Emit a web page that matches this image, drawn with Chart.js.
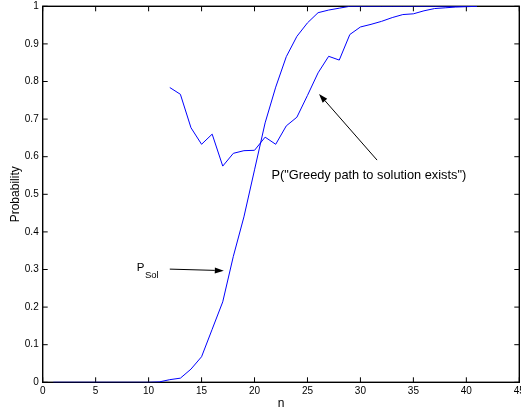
<!DOCTYPE html>
<html lang="en">
  <head>
    <meta charset="UTF-8" />
    <title>Probability vs n</title>
    <script src="https://cdn.jsdelivr.net/npm/chart.js"></script>
    <style>
      body { margin: 0; background: #fff; }
    </style>
  </head>
  <body>
    <canvas id="chart" width="521" height="411"></canvas>
    <script>
      // values
      const nSol = [1, 2, 3, 4, 5, 6, 7, 8, 9, 10, 11, 12, 13, 14, 15, 16, 17, 18, 19, 20, 21,
        22, 23, 24, 25, 26, 27, 28, 29, 30, 31, 32, 33, 34, 35, 36, 37, 38, 39, 40, 41];
      const pSol = [0, 0, 0, 0, 0, 0, 0, 0, 0, 0, 0.001, 0.007, 0.011, 0.035, 0.068, 0.141, 0.214,
        0.335, 0.44, 0.565, 0.69, 0.785, 0.866, 0.92, 0.956, 0.983, 0.99, 0.995, 1, 1, 1, 1, 1,
        1, 1, 1, 1, 1, 1, 1, 1];
      const nGreedy = [12, 13, 14, 15, 16, 17, 18, 19, 20, 21, 22, 23, 24, 25, 26, 27, 28, 29,
        30, 31, 32, 33, 34, 35, 36, 37, 38, 39, 40, 41];
      const pGreedy = [0.784, 0.766, 0.677, 0.633, 0.66, 0.575, 0.609, 0.616, 0.617, 0.652,
        0.633, 0.682, 0.705, 0.763, 0.823, 0.867, 0.857, 0.925, 0.945, 0.952, 0.96, 0.97,
        0.978, 0.98, 0.988, 0.994, 0.996, 0.998, 0.999, 1];
      const xTicks = [0, 5, 10, 15, 20, 25, 30, 35, 40, 45];
      const yTicks = [0, 0.1, 0.2, 0.3, 0.4, 0.5, 0.6, 0.7, 0.8, 0.9, 1];

      const FONT = "'Liberation Sans', Arial, Helvetica, sans-serif";
      const BLUE = "#0000ff";

      const toPoints = (xs, ys) => xs.map((x, i) => ({ x: x, y: ys[i] }));

      // frame with inward ticks on all four sides, like the original plot
      const framePlugin = {
        id: "frame",
        beforeDatasetsDraw(chart) {
          const { ctx, chartArea: a, scales } = chart;
          const len = 5;
          ctx.save();
          ctx.strokeStyle = "#000";
          ctx.lineWidth = 1.4;
          ctx.strokeRect(a.left, a.top, a.right - a.left, a.bottom - a.top);
          ctx.lineWidth = 1;
          ctx.beginPath();
          xTicks.forEach((v) => {
            const px = scales.x.getPixelForValue(v);
            ctx.moveTo(px, a.bottom); ctx.lineTo(px, a.bottom - len);
            ctx.moveTo(px, a.top); ctx.lineTo(px, a.top + len);
          });
          yTicks.forEach((v) => {
            const py = scales.y.getPixelForValue(v);
            ctx.moveTo(a.left, py); ctx.lineTo(a.left + len, py);
            ctx.moveTo(a.right, py); ctx.lineTo(a.right - len, py);
          });
          ctx.stroke();
          ctx.restore();
        },
      };

      function arrow(ctx, x1, y1, x2, y2) {
        const ang = Math.atan2(y2 - y1, x2 - x1);
        const hl = 9, hw = 3;
        ctx.beginPath();
        ctx.moveTo(x1, y1);
        ctx.lineTo(x2 - hl * Math.cos(ang), y2 - hl * Math.sin(ang));
        ctx.stroke();
        ctx.beginPath();
        ctx.moveTo(x2, y2);
        ctx.lineTo(x2 - hl * Math.cos(ang) + hw * Math.sin(ang), y2 - hl * Math.sin(ang) - hw * Math.cos(ang));
        ctx.lineTo(x2 - hl * Math.cos(ang) - hw * Math.sin(ang), y2 - hl * Math.sin(ang) + hw * Math.cos(ang));
        ctx.closePath();
        ctx.fill();
      }

      const notesPlugin = {
        id: "notes",
        afterDraw(chart) {
          const { ctx, scales } = chart;
          const X = (v) => scales.x.getPixelForValue(v);
          const Y = (v) => scales.y.getPixelForValue(v);
          ctx.save();
          ctx.fillStyle = "#000";
          ctx.strokeStyle = "#000";
          ctx.lineWidth = 1;
          ctx.textBaseline = "alphabetic";
          ctx.textAlign = "left";

          ctx.font = "12.8px " + FONT;
          ctx.fillText('P("Greedy path to solution exists")', X(21.6), Y(0.54));
          arrow(ctx, X(31.57), Y(0.591), X(26.09), Y(0.767));

          ctx.font = "11.5px " + FONT;
          ctx.fillText("P", X(8.87), Y(0.295));
          ctx.font = "9.5px " + FONT;
          ctx.fillText("Sol", X(9.65), Y(0.277));
          arrow(ctx, X(12.0), Y(0.301), X(17.1), Y(0.297));
          ctx.restore();
        },
      };

      new Chart(document.getElementById("chart"), {
        type: "line",
        data: {
          datasets: [
            {
              label: "P Sol",
              data: toPoints(nSol, pSol),
              borderColor: BLUE,
              backgroundColor: BLUE,
              borderWidth: 1,
              pointRadius: 0,
              tension: 0,
              fill: false,
            },
            {
              label: "P greedy",
              data: toPoints(nGreedy, pGreedy),
              borderColor: BLUE,
              backgroundColor: BLUE,
              borderWidth: 1,
              pointRadius: 0,
              tension: 0,
              fill: false,
            },
          ],
        },
        options: {
          responsive: false,
          animation: false,
          devicePixelRatio: 1,
          layout: { padding: { left: 0, right: 1.7, top: 6.3, bottom: 0 } },
          plugins: {
            legend: { display: false },
            tooltip: { enabled: false },
          },
          scales: {
            x: {
              type: "linear",
              min: 0,
              max: 45,
              afterBuildTicks: (s) => { s.ticks = xTicks.map((v) => ({ value: v })); },
              afterFit: (s) => { s.height = 28.7; s.paddingLeft = 0; s.paddingRight = 0; },
              grid: { display: false, drawTicks: false },
              border: { display: false },
              ticks: {
                color: "#000",
                font: { family: FONT, size: 10 },
                padding: 3,
                maxRotation: 0,
                autoSkip: false,
              },
              title: {
                display: true,
                text: "n",
                color: "#000",
                font: { family: FONT, size: 12 },
                padding: { top: 0, bottom: 0 },
              },
            },
            y: {
              type: "linear",
              min: 0,
              max: 1,
              afterBuildTicks: (s) => { s.ticks = yTicks.map((v) => ({ value: v })); },
              afterFit: (s) => { s.width = 42.7; s.paddingTop = 0; s.paddingBottom = 0; },
              grid: { display: false, drawTicks: false },
              border: { display: false },
              ticks: {
                color: "#000",
                font: { family: FONT, size: 10 },
                padding: 4,
                autoSkip: false,
                callback: (v) => String(+v.toFixed(1)),
              },
              title: {
                display: true,
                text: "Probability",
                color: "#000",
                font: { family: FONT, size: 12 },
                padding: { top: 8, bottom: 0 },
              },
            },
          },
        },
        plugins: [framePlugin, notesPlugin],
      });
    </script>
  </body>
</html>
